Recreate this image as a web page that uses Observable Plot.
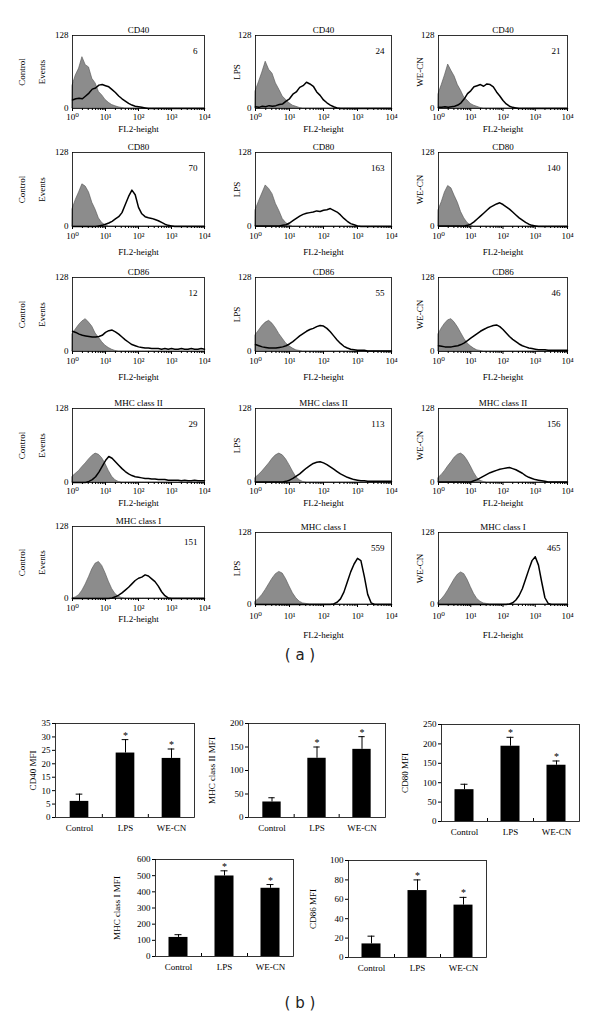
<!DOCTYPE html>
<html><head><meta charset="utf-8">
<script src="https://cdn.jsdelivr.net/npm/d3@7"></script>
<script src="https://cdn.jsdelivr.net/npm/@observablehq/plot@0.6"></script>
<style>
body{margin:0;background:#fff;}
#fig{position:relative;width:600px;height:1025px;overflow:hidden;background:#fff;}
#fig > div{position:absolute;}
.lab{font-family:"DejaVu Sans",sans-serif;font-size:15px;color:#222;}
</style></head><body><div id="fig"></div><script>
// ---------- histogram data: FL2 channel grid (log10 units) ----------
const logGrid = [0,0.1,0.2,0.3,0.4,0.5,0.6,0.7,0.8,0.9,1.0,1.1,1.2,1.3,1.4,1.5,1.6,1.7,1.8,1.9,2.0,2.1,2.2,2.3,2.4,2.5,2.6,2.7,2.8,2.9,3.0,3.1,3.2,3.3,3.4,3.5,3.6,3.7,3.8,3.9,4.0];
const histRowTitles = ["CD40","CD80","CD86","MHC class II","MHC class I"];
const histColNames = ["Control","LPS","WE-CN"];
const mfiNumbers = [["6","24","21"],["70","163","140"],["12","55","46"],["29","113","156"],["151","559","465"]];

// CD40
const cd40CtlIso = [40,58,70,90,76,72,52,44,29,23, 15,10,6,4,2,1,0,0,0,0, 0,0,0,0,0,0,0,0,0,0, 0,0,0,0,0,0,0,0,0,0, 0];
const cd40Ctl    = [15,17,18,17,22,27,34,36,41,42, 40,38,33,28,22,17,13,9,6,4, 3,2,1,0,0,0,0,0,0,0, 0,0,0,0,0,0,0,0,0,0, 0];
const cd40LpsIso = [30,46,63,82,68,61,44,33,21,15, 9,5,3,1,0,0,0,0,0,0, 0,0,0,0,0,0,0,0,0,0, 0,0,0,0,0,0,0,0,0,0, 0];
const cd40Lps    = [3,2,4,3,5,4,5,7,8,13, 17,25,29,37,40,46,43,39,29,23, 15,10,6,3,1,0,0,0,0,0, 0,0,0,0,0,0,0,0,0,0, 0];
const cd40WeIso  = [25,41,58,77,66,56,41,31,19,14, 8,5,3,1,0,0,0,0,0,0, 0,0,0,0,0,0,0,0,0,0, 0,0,0,0,0,0,0,0,0,0, 0];
const cd40We     = [2,2,3,2,3,4,6,10,17,26, 31,38,40,42,39,43,42,38,29,22, 14,8,4,2,1,0,0,0,0,0, 0,0,0,0,0,0,0,0,0,0, 0];
// CD80
const cd80CtlIso = [30,46,59,73,69,59,41,29,14,6, 2,0,0,0,0,0,0,0,0,0, 0,0,0,0,0,0,0,0,0,0, 0,0,0,0,0,0,0,0,0,0, 0];
const cd80Ctl    = [0,0,0,0,0,0,0,0,1,2, 4,6,9,13,17,24,38,52,63,55, 33,22,17,15,14,12,10,7,4,2, 1,0,0,0,0,0,0,0,0,0, 0];
const cd80LpsIso = [28,43,57,71,65,56,39,27,13,6, 2,0,0,0,0,0,0,0,0,0, 0,0,0,0,0,0,0,0,0,0, 0,0,0,0,0,0,0,0,0,0, 0];
const cd80Lps    = [1,1,1,1,1,1,1,1,2,3, 6,10,14,18,21,23,24,25,27,26, 28,29,31,28,25,20,14,9,5,3, 1,0,0,0,0,0,0,0,0,0, 0];
const cd80WeIso  = [28,42,59,70,66,53,41,25,14,6, 2,0,0,0,0,0,0,0,0,0, 0,0,0,0,0,0,0,0,0,0, 0,0,0,0,0,0,0,0,0,0, 0];
const cd80We     = [1,1,1,1,1,1,1,1,1,2, 4,8,13,18,23,28,33,36,39,41, 38,34,30,25,20,15,11,7,4,2, 1,0,0,0,0,0,0,0,0,0, 0];
// CD86
const cd86CtlIso = [30,38,46,52,56,50,43,31,24,16, 10,6,3,1,0,0,0,0,0,0, 0,0,0,0,0,0,0,0,0,0, 0,0,0,0,0,0,0,0,0,0, 0];
const cd86Ctl    = [35,33,30,28,27,26,25,25,26,28, 33,36,37,34,30,25,20,16,12,10, 8,7,6,6,5,5,5,4,5,4, 5,4,4,5,4,4,5,4,4,5, 4];
const cd86LpsIso = [28,36,44,50,53,48,40,30,22,14, 9,5,2,1,0,0,0,0,0,0, 0,0,0,0,0,0,0,0,0,0, 0,0,0,0,0,0,0,0,0,0, 0];
const cd86Lps    = [12,10,8,7,6,6,6,7,8,10, 13,17,22,27,31,35,38,40,43,45, 44,40,34,27,20,14,9,6,4,3, 2,2,2,1,1,1,1,1,1,1, 1];
const cd86WeIso  = [30,40,48,54,56,50,42,32,22,14, 9,5,2,1,0,0,0,0,0,0, 0,0,0,0,0,0,0,0,0,0, 0,0,0,0,0,0,0,0,0,0, 0];
const cd86We     = [10,9,8,8,8,9,10,12,15,19, 23,27,31,35,38,41,43,45,46,43, 38,32,26,21,17,13,10,8,6,5, 4,3,3,3,2,2,2,2,2,2, 2];
// MHC class II
const mhc2CtlIso = [10,15,20,27,33,40,46,50,48,42, 32,20,10,4,1,0,0,0,0,0, 0,0,0,0,0,0,0,0,0,0, 0,0,0,0,0,0,0,0,0,0, 0];
const mhc2Ctl    = [0,0,0,0,0,2,5,10,18,28, 38,45,42,36,30,24,19,15,12,10, 9,8,7,7,6,6,5,5,5,4, 4,4,4,3,4,3,3,4,3,3, 3];
const mhc2LpsIso = [8,13,19,26,33,41,47,50,47,40, 30,19,9,4,1,0,0,0,0,0, 0,0,0,0,0,0,0,0,0,0, 0,0,0,0,0,0,0,0,0,0, 0];
const mhc2Lps    = [1,1,1,1,1,1,1,1,1,2, 4,7,11,15,20,25,29,33,35,36, 34,31,27,23,19,15,12,9,7,5, 4,3,3,2,2,2,2,2,2,2, 2];
const mhc2WeIso  = [8,13,20,28,35,43,48,50,46,38, 28,17,8,3,1,0,0,0,0,0, 0,0,0,0,0,0,0,0,0,0, 0,0,0,0,0,0,0,0,0,0, 0];
const mhc2We     = [1,1,1,1,1,1,1,1,1,1, 1,3,5,8,11,14,17,19,21,23, 24,25,26,24,22,19,16,12,9,7, 5,4,3,2,1,1,1,1,1,1, 1];
// MHC class I
const mhc1CtlIso = [0,2,6,14,25,38,52,62,65,58, 45,30,17,8,3,1,0,0,0,0, 0,0,0,0,0,0,0,0,0,0, 0,0,0,0,0,0,0,0,0,0, 0];
const mhc1Ctl    = [0,0,0,0,0,0,0,0,0,0, 0,0,1,3,6,10,15,20,26,32, 36,38,42,40,35,30,22,12,5,1, 0,0,0,0,0,0,0,0,0,0, 0];
const mhc1LpsIso = [5,10,17,26,36,46,54,58,55,45, 32,20,11,5,2,1,0,0,0,0, 0,0,0,0,0,0,0,0,0,0, 0,0,0,0,0,0,0,0,0,0, 0];
const mhc1Lps    = [0,0,0,0,0,0,0,0,0,0, 0,0,0,0,0,0,0,0,0,0, 0,0,0,1,4,10,22,40,58,72, 82,78,50,18,3,0,0,0,0,0, 0];
const mhc1WeIso  = [4,9,16,25,35,45,53,57,54,44, 31,19,10,5,2,1,0,0,0,0, 0,0,0,0,0,0,0,0,0,0, 0,0,0,0,0,0,0,0,0,0, 0];
const mhc1We     = [0,0,0,0,0,0,0,0,0,0, 0,0,0,0,0,0,0,0,0,0, 0,0,1,3,8,16,28,45,62,78, 85,70,40,12,2,0,0,0,0,0, 0];

const isoSets = [[cd40CtlIso,cd40LpsIso,cd40WeIso],[cd80CtlIso,cd80LpsIso,cd80WeIso],[cd86CtlIso,cd86LpsIso,cd86WeIso],[mhc2CtlIso,mhc2LpsIso,mhc2WeIso],[mhc1CtlIso,mhc1LpsIso,mhc1WeIso]];
const trtSets = [[cd40Ctl,cd40Lps,cd40We],[cd80Ctl,cd80Lps,cd80We],[cd86Ctl,cd86Lps,cd86We],[mhc2Ctl,mhc2Lps,mhc2We],[mhc1Ctl,mhc1Lps,mhc1We]];
const decadeTicks = [1,10,100,1000,10000];
const decadeLabels = ["10\u2070","10\u00B9","10\u00B2","10\u00B3","10\u2074"];
const countTicks = [0,128];

// ---------- bar chart data ----------
const groups = ["Control","LPS","WE-CN"];
const cd40Mfi = [6,24,22],   cd40Sd = [2.7,5,3.5];
const mhc2Mfi = [33,126,145], mhc2Sd = [9,24,27];
const cd80Mfi = [82,194,145], cd80Sd = [14,23,11];
const mhc1Mfi = [118,498,422], mhc1Sd = [17,32,23];
const cd86Mfi = [14,69,54],  cd86Sd = [8,11,8];
const significant = [false,true,true];

// ---------- layout ----------
const FONT = '"Liberation Serif","DejaVu Serif",serif';
const fig = document.getElementById("fig");
function place(node, left, top){ const d=document.createElement("div"); d.style.left=left+"px"; d.style.top=top+"px"; d.appendChild(node); fig.appendChild(d); }

const colLeft=[72,255,438], colW=[132,136,129];
const rowTop=[[35,35,35],[152,152,152],[277,277,277],[408,408,408],[526,532,532]];
const rowH=[[73,73,73],[74,74,74],[74,74,74],[74,74,74],[72,72,72]];
const xlabOff=[[23,23,23],[28,28,28],[28,28,28],[23,23,23],[23,33,33]];
const tickPad=[[2,2,2],[3,3,3],[3,3,3],[2,2,2],[3,5,5]];
const mL=62,mR=10,mT=20,mB=44;

for(let r=0;r<5;r++) for(let c=0;c<3;c++){
  const W=colW[c],H=rowH[r][c];
  const iso=logGrid.map((g,i)=>({x:10**g,y:isoSets[r][c][i]}));
  const trt=logGrid.map((g,i)=>({x:10**g,y:trtSets[r][c][i]}));
  const minor=[]; for(const d of [1,10,100,1000]) for(let k=2;k<10;k++) minor.push(d*k);
  const ylabs = c===0 ? [{t:histColNames[0],dx:-50},{t:"Events",dx:-30}] : [{t:histColNames[c],dx:-18}];
  const p=Plot.plot({
    width:W+mL+mR,height:H+mT+mB,marginLeft:mL,marginRight:mR,marginTop:mT,marginBottom:mB,
    style:{fontFamily:FONT,fontSize:"9px",background:"transparent",color:"black"},
    x:{type:"log",domain:[1,10000]},
    y:{domain:[0,128]},
    marks:[
      Plot.areaY(iso,{x:"x",y:"y",fill:"#8c8c8c",stroke:"#505050",strokeWidth:0.6}),
      Plot.lineY(trt,{x:"x",y:"y",stroke:"black",strokeWidth:1.5}),
      Plot.frame({stroke:"black",strokeWidth:0.8}),
      Plot.axisX({ticks:minor,tickSize:2,tickFormat:()=>"",label:null}),
      Plot.axisX({ticks:decadeTicks,tickSize:3,tickPadding:tickPad[r][c],tickFormat:(d)=>decadeLabels[Math.round(Math.log10(d))],label:null,fontSize:9}),
      Plot.axisY({ticks:countTicks,tickSize:0,tickPadding:4,label:null,fontSize:9}),
      Plot.text([histRowTitles[r]],{text:d=>d,frameAnchor:"top",dy:-9,fontSize:9,textAnchor:"middle"}),
      Plot.text([mfiNumbers[r][c]],{text:d=>d,frameAnchor:"top-right",dx:-7,dy:12,textAnchor:"end",fontSize:9}),
      Plot.text(["FL2-height"],{text:d=>d,frameAnchor:"bottom",dy:xlabOff[r][c],fontSize:9,textAnchor:"middle"}),
      ...ylabs.map(l=>Plot.text([l.t],{text:d=>d,frameAnchor:"left",dx:l.dx,rotate:-90,fontSize:9,textAnchor:"middle"}))
    ]
  });
  place(p, colLeft[c]-mL, rowTop[r][c]-mT);
}

// ---------- bar charts ----------
const bars=[
  {mfi:cd40Mfi,sd:cd40Sd,label:"CD40 MFI",ymax:35,ticks:[0,5,10,15,20,25,30,35],left:55,top:723,W:139,H:94,ldx:-22},
  {mfi:mhc2Mfi,sd:mhc2Sd,label:"MHC class II MFI",ymax:200,ticks:[0,50,100,150,200],left:248,top:723,W:137,H:94,ldx:-36},
  {mfi:cd80Mfi,sd:cd80Sd,label:"CD80 MFI",ymax:250,ticks:[0,50,100,150,200,250],left:441,top:724,W:138,H:97,ldx:-36},
  {mfi:mhc1Mfi,sd:mhc1Sd,label:"MHC class I MFI",ymax:600,ticks:[0,100,200,300,400,500,600],left:155,top:859,W:138,H:97,ldx:-38},
  {mfi:cd86Mfi,sd:cd86Sd,label:"CD86 MFI",ymax:100,ticks:[0,20,40,60,80,100],left:348,top:860,W:138,H:97,ldx:-35}
];
const bL=50,bR=6,bT=14,bB=30;
for(const b of bars){
  const rows=groups.map((g,i)=>({g,v:b.mfi[i],hi:b.mfi[i]+b.sd[i],star:significant[i]}));
  const bw=b.W/3, ins=(bw-19)/2, capIns=(bw-7)/2;
  const p=Plot.plot({
    width:b.W+bL+bR,height:b.H+bT+bB,marginLeft:bL,marginRight:bR,marginTop:bT,marginBottom:bB,
    style:{fontFamily:FONT,fontSize:"9px",background:"transparent",color:"black"},
    x:{domain:groups,paddingInner:0,paddingOuter:0},
    y:{domain:[0,b.ymax]},
    marks:[
      Plot.barY(rows,{x:"g",y:"v",fill:"black",insetLeft:ins,insetRight:ins}),
      Plot.ruleX(rows,{x:"g",y1:"v",y2:"hi",stroke:"black",strokeWidth:1}),
      Plot.tickY(rows,{x:"g",y:"hi",stroke:"black",strokeWidth:1,insetLeft:capIns,insetRight:capIns}),
      Plot.text(rows.filter(d=>d.star),{x:"g",y:"hi",text:()=>"*",dy:-1,lineAnchor:"bottom",fontSize:10}),
      Plot.ruleX(groups.slice(1),{x:d=>d,dx:-bw/2,insetTop:b.H-3,stroke:"black"}),
      Plot.frame({stroke:"black",strokeWidth:0.8}),
      Plot.axisY({ticks:b.ticks,tickSize:3,tickPadding:2,label:null,fontSize:9}),
      Plot.axisX({tickSize:0,tickPadding:7,label:null,fontSize:9}),
      Plot.text([b.label],{text:d=>d,frameAnchor:"left",dx:b.ldx,rotate:-90,fontSize:9,textAnchor:"middle"})
    ]
  });
  place(p,b.left-bL,b.top-bT);
}

// panel letters
for(const [t,y] of [["( a )",646],["( b )",994]]){
  const d=document.createElement("div"); d.className="lab"; d.textContent=t;
  d.style.left="0px"; d.style.width="600px"; d.style.textAlign="center"; d.style.top=y+"px";
  fig.appendChild(d);
}
</script></body></html>
